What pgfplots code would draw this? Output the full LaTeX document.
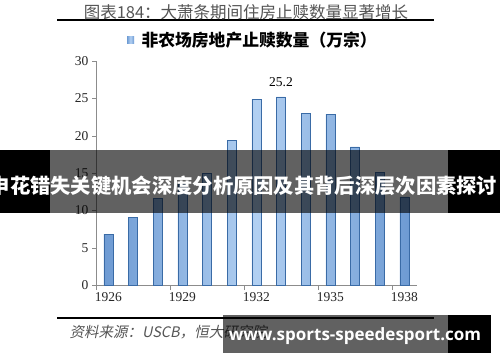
\documentclass[border=0pt]{standalone}
\usepackage{pgfplots}
\pgfplotsset{compat=1.18}
\usepackage{fontspec}
\setmainfont{Liberation Serif}
\newfontfamily\cjk{Noto Sans CJK SC}
\newfontfamily\cjkit{Noto Sans CJK SC}[FakeSlant=0.2]
\newfontfamily\wm{Open Sans}
\definecolor{barDark}{HTML}{3A6BA6}
\definecolor{barMid}{HTML}{6E9BD3}
\definecolor{barLight}{HTML}{B2D0F2}
\definecolor{axisgray}{HTML}{8C8C8C}
\definecolor{titlegray}{HTML}{555555}
\pgfdeclarehorizontalshading{barsh}{100bp}{color(0bp)=(barDark); color(25bp)=(barMid); color(50bp)=(barLight); color(75bp)=(barMid); color(100bp)=(barDark)}
\pgfplotstableread{
x year val
0 1926 6.8
1 1927 9.1
2 1928 11.6
3 1929 13.5
4 1930 15.0
5 1931 19.4
6 1932 24.9
7 1933 25.2
8 1934 23.0
9 1935 22.9
10 1936 18.5
11 1937 15.1
12 1938 11.8
}\datatable
\begin{document}
\begin{tikzpicture}[x=1bp,y=1bp]
\path[use as bounding box, fill=white] (0,0) rectangle (500,362);
\draw[line width=2.5bp] (57,342) -- (434,342);
\node[text=titlegray, font=\cjk\fontsize{16.5bp}{18bp}\selectfont] at (246,350) {图表184：大萧条期间住房止赎数量显著增长};
\shade[shading=barsh] (127,318.5) rectangle (134,325.5);
\node[anchor=west, font=\cjk\bfseries\fontsize{16.8bp}{18bp}\selectfont] at (138,322) {非农场房地产止赎数量（万宗）};
\begin{axis}[
  at={(96bp,77bp)}, anchor=south west,
  scale only axis, width=320.6bp, height=224bp,
  xmin=-0.5, xmax=12.5, ymin=0, ymax=30,
  axis x line*=bottom, axis y line*=left,
  x axis line style={-, draw=axisgray}, y axis line style={-, draw=axisgray},
  ytick={0,5,...,30},
  tick align=outside, major tick length=4bp,
  ytick style={draw=axisgray},
  xtick={0,3,6,9,12}, xticklabels={1926,1929,1932,1935,1938},
  xtick style={draw=none},
  extra x ticks={-0.5,2.5,5.5,8.5,11.5},
  extra x tick labels={},
  extra x tick style={xtick style={draw=axisgray}, major tick length=5bp},
  tick label style={font=\fontsize{13.5bp}{15bp}\selectfont, text=black!85},
  /pgf/number format/assume math mode=true,
  ybar, bar width=9bp,
]
\addplot[draw=barDark, line width=0.3bp, shading=barsh] table[x=x, y=val] {\datatable};
\node[above, font=\fontsize{13.5bp}{15bp}\selectfont, inner sep=2bp] at (axis cs:7,26.2) {25.2};
\end{axis}
\draw[line width=2.5bp] (57,44) -- (434,44);
\node[anchor=west, text=titlegray, font=\cjkit\fontsize{14.5bp}{16bp}\selectfont] at (66,30) {资料来源：USCB，恒大研究院};
\fill[black] (0,149) rectangle (50,212);
\fill[black] (448,149) rectangle (500,212);
\fill[black, opacity=0.62] (50,149) rectangle (448,212);
\node[text=white, font=\cjk\bfseries\fontsize{20.3bp}{22bp}\selectfont] at (243.5,176) {申花错失关键机会深度分析原因及其背后深层次因素探讨};
\fill[black, opacity=0.62] (223,9) rectangle (448,47);
\fill[black] (448,9) rectangle (491,47);
\node[text=white, font=\wm\bfseries\fontsize{17bp}{20bp}\selectfont] at (355,25.5) {www.sports-speedesport.com};
\end{tikzpicture}
\end{document}
